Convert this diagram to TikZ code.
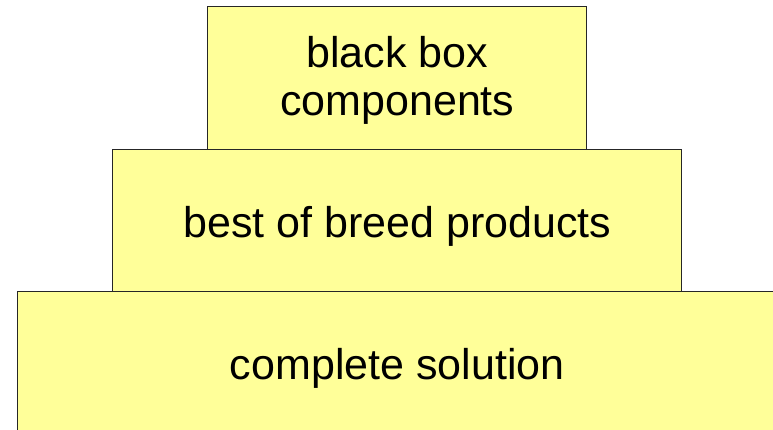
\documentclass[tikz,border=0pt]{standalone}
\usepackage{fontspec}
\setmainfont{Liberation Sans}
\usepackage{tikz}
\usetikzlibrary{positioning}
\definecolor{paleyellow}{RGB}{255,255,153}
\tikzstyle{layer}=[draw=black!85,fill=paleyellow,line width=1pt,rectangle,outer sep=0pt,inner sep=0pt,align=center,font=\fontsize{43pt}{47.5pt}\selectfont]
\tikzstyle{oneline}=[layer,text height=34pt,text depth=0pt]

\begin{document}
\begin{tikzpicture}[x=1pt,y=1pt]
    \useasboundingbox (0,0) rectangle (773,-430);
    \clip (0,0) rectangle (773,-430);
    \node [layer,minimum width=379pt,minimum height=143pt,text depth=5pt] (top) at (397.3,-78.2) {black box\\components};
    \node [oneline,minimum width=569pt,minimum height=142pt,below=0pt of top] (middle) {best of breed products};
    \node [oneline,minimum width=759pt,minimum height=142pt,below=0pt of middle] (base) {complete solution};
\end{tikzpicture}
\end{document}
